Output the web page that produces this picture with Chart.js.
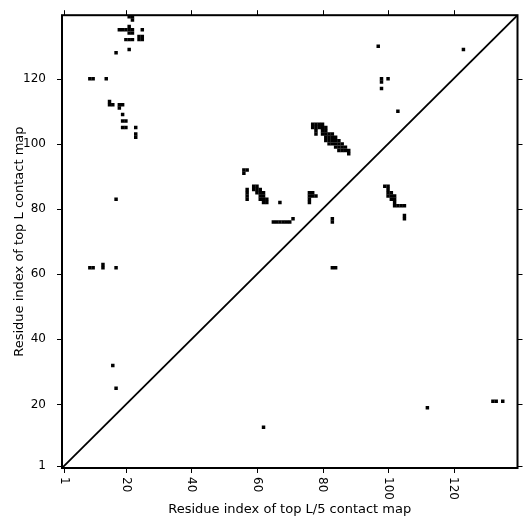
<!DOCTYPE html>
<html><head><meta charset="utf-8">
<script src="https://cdn.jsdelivr.net/npm/chart.js@4/dist/chart.umd.min.js"></script>
<style>html,body{margin:0;padding:0;background:#fff}</style>
</head><body>
<canvas id="c" width="531" height="531"></canvas>
<script>
const axisRange = [0.5, 139.5];
const xTickValues = [1, 20, 40, 60, 80, 100, 120];
const yTickValues = [1, 20, 40, 60, 80, 100, 120];
const xAxisTitle = 'Residue index of top L/5 contact map';
const yAxisTitle = 'Residue index of top L contact map';

const upperLeftContacts = [
  [21,139],[22,139],[22,138],[21,136],
  [18,135],[19,135],[20,135],[21,135],[22,135],[25,135],
  [21,134],[22,134],
  [24,133],[25,133],
  [20,132],[21,132],[22,132],[24,132],[25,132],
  [21,129],[17,128],
  [9,120],[10,120],[14,120],
  [15,113],[15,112],[16,112],[18,112],[19,112],[18,111],
  [19,109],[19,107],[20,107],[19,105],[20,105],[23,105],[23,103],[23,102]
];
const middleBandContacts = [
  [77,106],[78,106],[79,106],[80,106],
  [77,105],[78,105],[79,105],[80,105],[81,105],
  [78,104],[80,104],[81,104],
  [78,103],[80,103],[81,103],[82,103],[83,103],
  [81,102],[82,102],[83,102],[84,102],
  [81,101],[82,101],[83,101],[84,101],[85,101],
  [82,100],[83,100],[84,100],[85,100],[86,100],
  [84,99],[85,99],[86,99],[87,99],
  [85,98],[86,98],[87,98],[88,98],
  [88,97]
];
const middleLowerContacts = [
  [56,92],[57,92],[56,91],
  [57,86],[57,85],[57,84],[57,83],
  [59,87],[60,87],[59,86],[60,86],[61,86],[60,85],[61,85],[62,85],
  [61,84],[62,84],[61,83],[62,83],[63,83],[62,82],[63,82],
  [67,82],
  [65,76],[66,76],[67,76],[68,76],[69,76],[70,76],[71,77],
  [76,85],[77,85],[76,84],[77,84],[78,84],[76,83],[76,82],
  [83,77],[83,76]
];
const rightContacts = [
  [99,87],[100,87],[100,86],[100,85],[101,85],
  [100,84],[101,84],[102,84],[101,83],[102,83],
  [102,82],[102,81],[103,81],[104,81],[105,81],
  [105,78],[105,77]
];
const scatteredContacts = [
  [97,130],[123,129],[98,120],[98,119],[100,120],[98,117],[103,110],
  [17,83],[9,62],[10,62],[13,62],[13,63],[17,62],[83,62],[84,62],
  [16,32],[17,25],[62,13],[112,19],[132,21],[133,21],[135,21]
];

const toPts = arr => arr.map(([x, y]) => ({x, y}));
const cellRadius = ctx => {
  const s = ctx.chart.scales.x;
  return (Math.abs(s.getPixelForValue(1) - s.getPixelForValue(0)) + 0.2) / Math.SQRT2;
};
const cellDataset = arr => ({
  type: 'scatter', data: toPts(arr), pointStyle: 'rect',
  pointRadius: cellRadius, pointHoverRadius: cellRadius,
  backgroundColor: '#000', borderWidth: 0, clip: 0
});

const framePlugin = {
  id: 'framePlugin',
  afterDraw(chart) {
    const {ctx, chartArea: a, scales: {x, y}} = chart;
    ctx.save();
    ctx.strokeStyle = '#000';
    ctx.lineWidth = 2;
    ctx.strokeRect(a.left, a.top, a.right - a.left, a.bottom - a.top);
    ctx.lineWidth = 1;
    ctx.beginPath();
    xTickValues.forEach(v => {
      const px = Math.round(x.getPixelForValue(v)) + 0.5;
      ctx.moveTo(px, a.bottom); ctx.lineTo(px, a.bottom + 5);
      ctx.moveTo(px, a.top); ctx.lineTo(px, a.top - 5);
    });
    yTickValues.forEach(v => {
      const py = Math.round(y.getPixelForValue(v)) + 0.5;
      ctx.moveTo(a.left, py); ctx.lineTo(a.left - 5, py);
      ctx.moveTo(a.right, py); ctx.lineTo(a.right + 5, py);
    });
    ctx.stroke();
    ctx.fillStyle = '#000';
    ctx.font = '12px "DejaVu Sans"';
    xTickValues.forEach(v => {
      ctx.save();
      ctx.translate(x.getPixelForValue(v), a.bottom + 9);
      ctx.rotate(Math.PI / 2);
      ctx.textAlign = 'left';
      ctx.textBaseline = 'middle';
      ctx.fillText(String(v), 0, 0);
      ctx.restore();
    });
    ctx.font = '13px "DejaVu Sans"';
    ctx.textAlign = 'center';
    ctx.textBaseline = 'middle';
    ctx.fillText(xAxisTitle, (a.left + a.right) / 2, 510);
    ctx.save();
    ctx.translate(20, (a.top + a.bottom) / 2);
    ctx.rotate(-Math.PI / 2);
    ctx.fillText(yAxisTitle, 0, 0);
    ctx.restore();
    ctx.restore();
  }
};

new Chart(document.getElementById('c'), {
  data: {
    datasets: [
      cellDataset(upperLeftContacts),
      cellDataset(middleBandContacts),
      cellDataset(middleLowerContacts),
      cellDataset(rightContacts),
      cellDataset(scatteredContacts),
      {
        type: 'line',
        data: [{x: axisRange[0], y: axisRange[0]}, {x: axisRange[1], y: axisRange[1]}],
        borderColor: '#000', borderWidth: 1.8, pointRadius: 0, fill: false, clip: 0
      }
    ]
  },
  options: {
    responsive: false, animation: false, devicePixelRatio: 1,
    layout: {padding: {left: 0, right: 13.5, top: 14, bottom: 0}},
    plugins: {legend: {display: false}, tooltip: {enabled: false}},
    scales: {
      x: {
        type: 'linear', min: axisRange[0], max: axisRange[1],
        grid: {display: false}, border: {display: false},
        ticks: {display: false},
        afterBuildTicks: s => { s.ticks = xTickValues.map(v => ({value: v})); },
        afterFit: s => { s.height = 63; }
      },
      y: {
        type: 'linear', min: axisRange[0], max: axisRange[1],
        grid: {display: false}, border: {display: false},
        ticks: {padding: 8, color: '#000', font: {family: 'DejaVu Sans', size: 12}, callback: v => String(v)},
        afterBuildTicks: s => { s.ticks = yTickValues.map(v => ({value: v})); },
        afterFit: s => { s.width = 62; }
      }
    }
  },
  plugins: [framePlugin]
});
</script>
</body></html>
